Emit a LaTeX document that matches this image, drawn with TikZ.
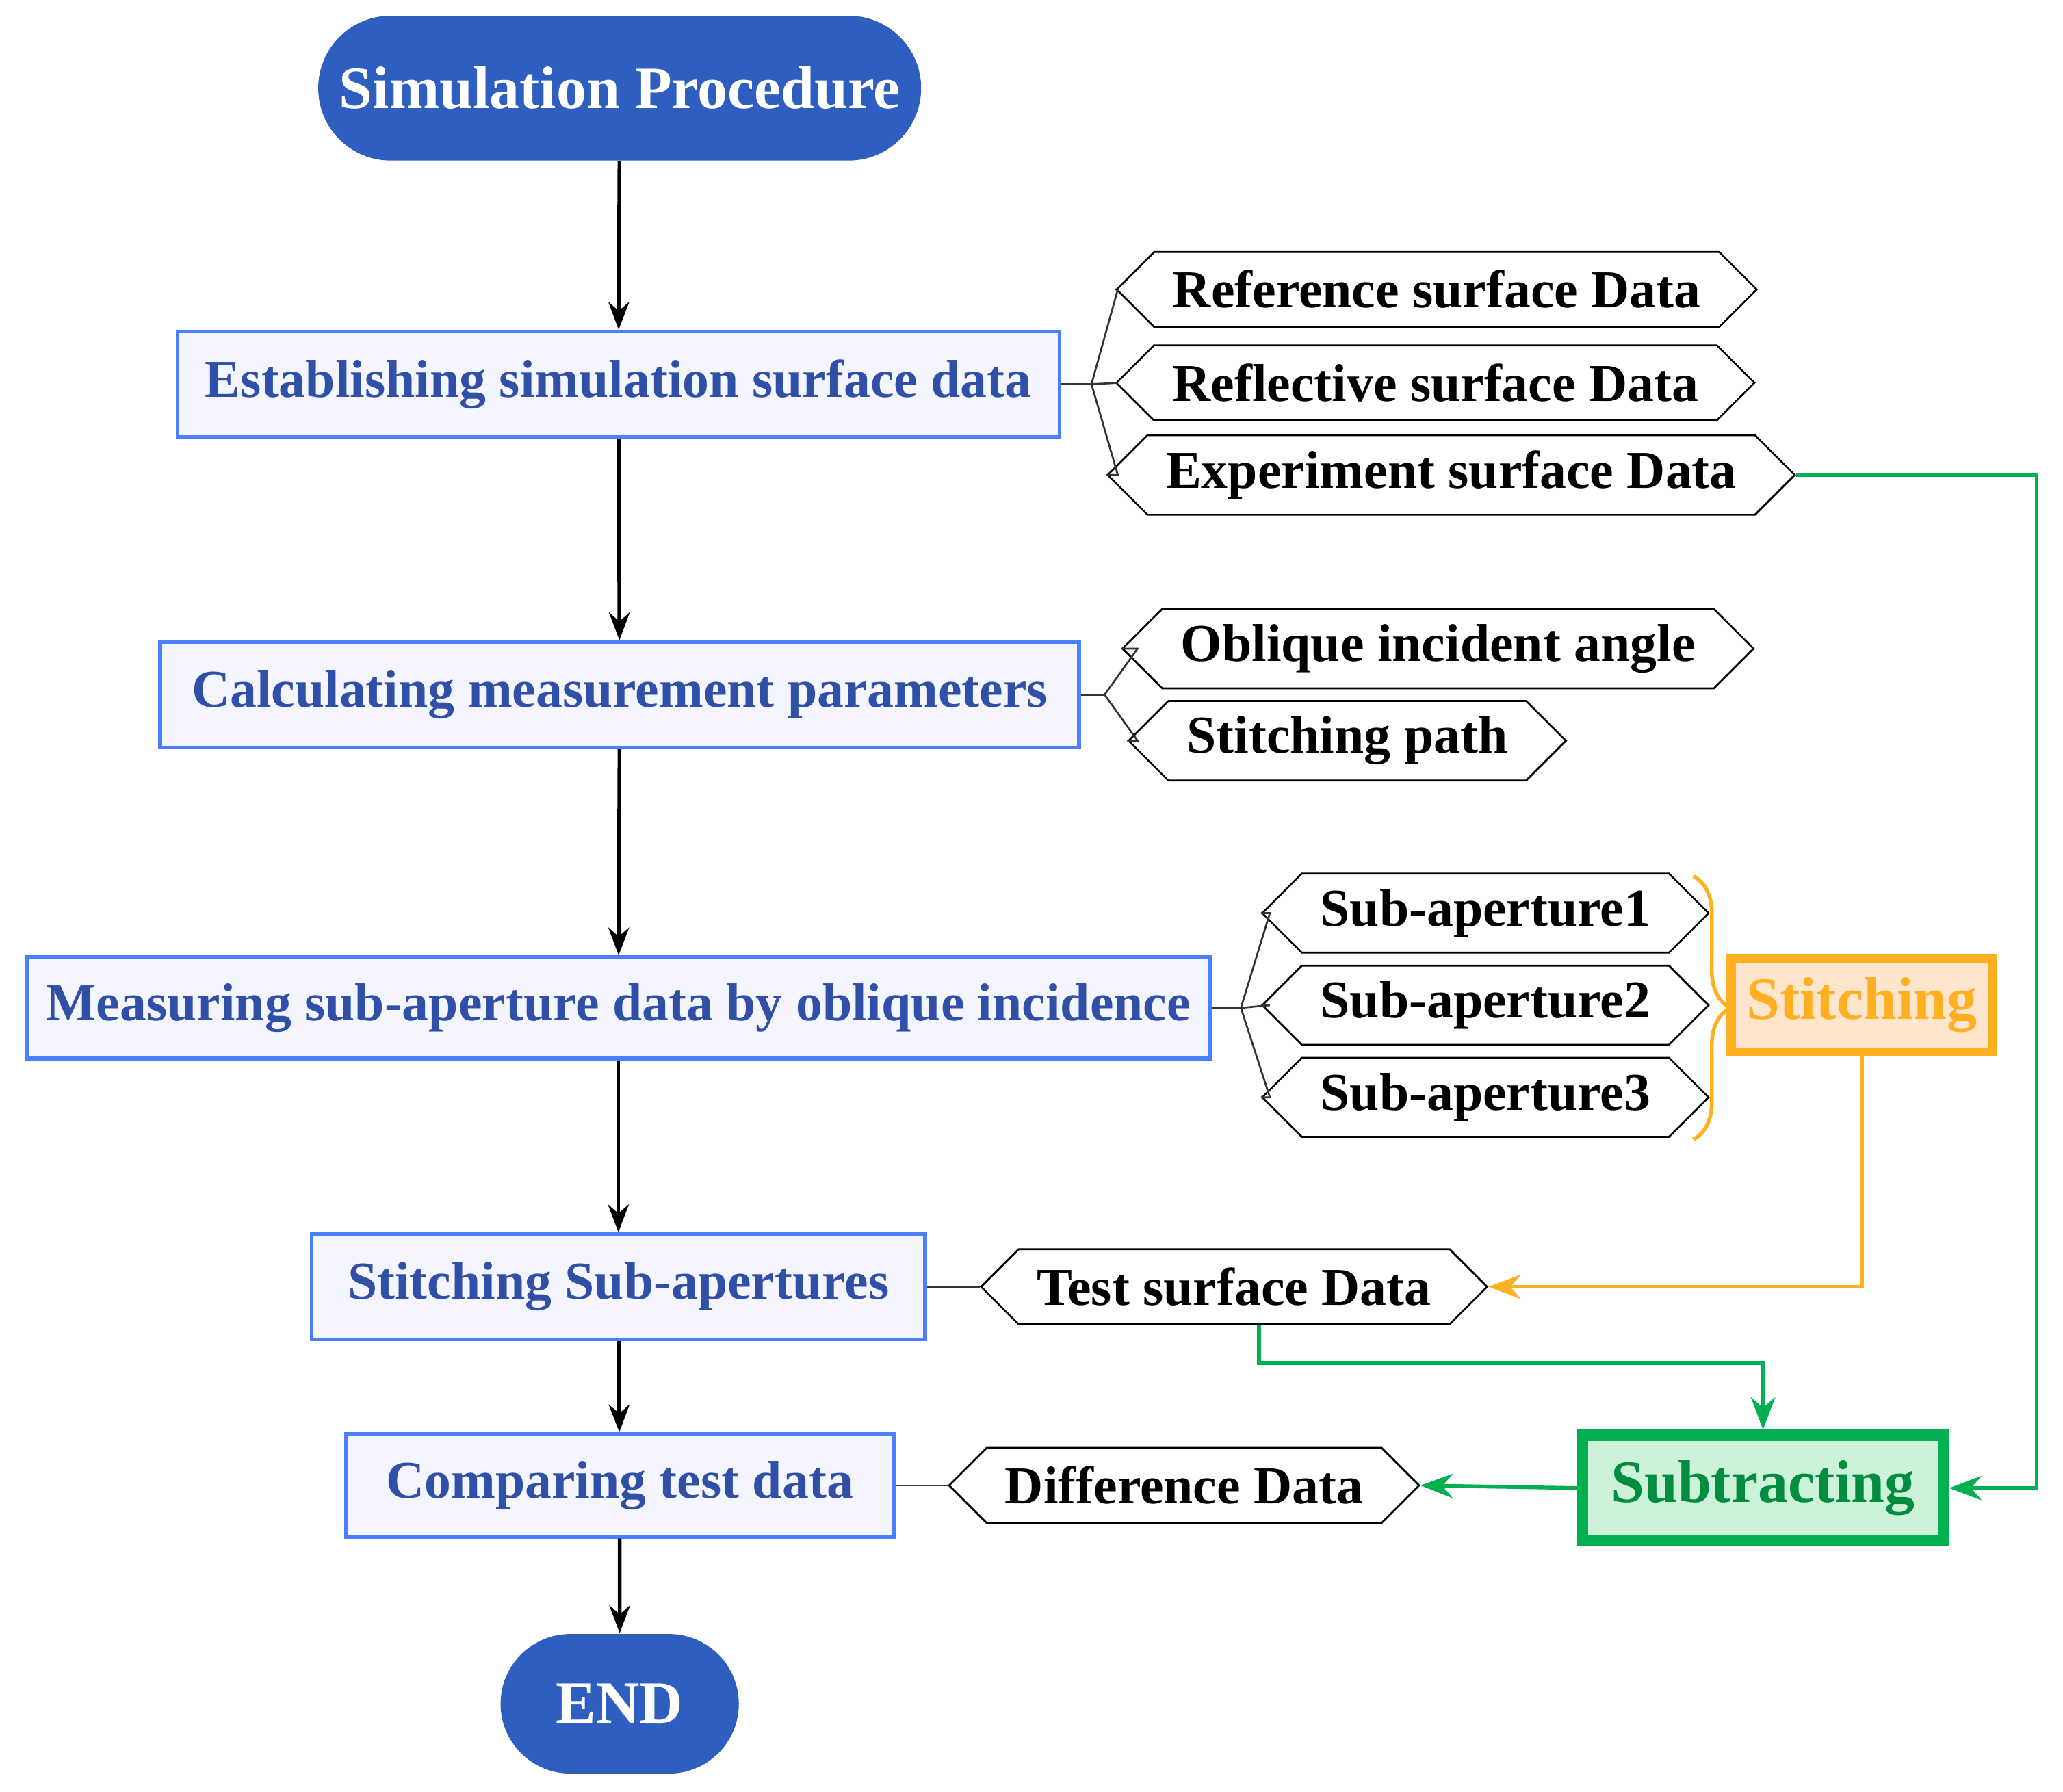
\documentclass[tikz,border=0pt]{standalone}
\usepackage{fontspec}
\setmainfont{Liberation Serif}
\usetikzlibrary{shapes,shapes.symbols,arrows.meta,positioning,calc,decorations.pathreplacing}
\definecolor{capblue}{HTML}{2E5EC0}
\definecolor{stepblue}{HTML}{4A80FF}
\definecolor{steptext}{HTML}{3050A8}
\definecolor{steporange}{HTML}{FFB020}
\definecolor{stepgreen}{HTML}{00B050}
\begin{document}
\begin{tikzpicture}[x=0.01cm, y=-0.01cm,
    font=\bfseries\fontsize{11.5}{13}\selectfont,
    terminal/.style={rounded rectangle, fill=capblue, text=white, inner sep=0pt},
    stage/.style={rectangle, draw=stepblue, thick, fill=blue!4, text=steptext, minimum height=0.8cm},
    tag/.style={signal, signal to=east and west, draw=black, minimum height=0.57cm, inner xsep=4pt},
    arrow/.style={-{Stealth[length=6pt]}, thick},
    fork/.style={draw=black!80, thin}
]
    \useasboundingbox (0,0) rectangle (1568,1362);

    % Main flow
    \node[terminal, minimum width=4.58cm, minimum height=1.1cm] (start) at (471,67) {\fontsize{13}{15}\selectfont Simulation Procedure};
    \node[stage, minimum width=6.7cm] (establish) at (470,292) {Establishing simulation surface data};
    \node[stage, minimum width=6.98cm] (calc) at (471,528) {Calculating measurement parameters};
    \node[stage, minimum width=8.99cm, minimum height=0.77cm] (measure) at (470,766) {Measuring sub-aperture data by oblique incidence};
    \node[stage, minimum width=4.66cm] (stitchsub) at (470,978) {Stitching Sub-apertures};
    \node[stage, minimum width=4.16cm, minimum height=0.78cm] (compare) at (471,1129) {Comparing test data};
    \node[terminal, minimum width=1.81cm, minimum height=1.06cm] (end) at (471,1295) {\fontsize{13}{15}\selectfont END};

    % Data tags
    \node[tag, minimum width=4.45cm] (refdata) at (1092,220) {Reference surface Data};
    \node[tag, minimum width=4.42cm] (refldata) at (1091,291) {Reflective surface Data};
    \node[tag, minimum width=4.67cm] (expdata) at (1103,361) {Experiment surface Data};
    \node[tag, minimum width=4.22cm] (angle) at (1093,493) {Oblique incident angle};
    \node[tag, minimum width=2.85cm] (path) at (1024,563) {Stitching path};
    \node[tag, minimum width=2.92cm] (sub1) at (1129,694) {Sub-aperture1};
    \node[tag, minimum width=2.92cm] (sub2) at (1129,764) {Sub-aperture2};
    \node[tag, minimum width=2.92cm] (sub3) at (1129,834) {Sub-aperture3};
    \node[tag, minimum width=3.44cm] (testdata) at (938,978) {Test surface Data};
    \node[tag, minimum width=3.19cm] (diffdata) at (900,1129) {Difference Data};

    % Operations
    \node[rectangle, draw=steporange, line width=2pt, fill=orange!20, text=steporange, minimum width=1.86cm, minimum height=0.71cm] (stitching) at (1415,764) {\fontsize{13}{15}\selectfont Stitching};
    \node[rectangle, draw=stepgreen, line width=2.5pt, fill=green!50!teal!20, text=stepgreen!80!black, minimum width=2.74cm, minimum height=0.8cm] (subtract) at (1340,1131) {\fontsize{13}{15}\selectfont Subtracting};

    % Arrows
    \draw[arrow] (start) -- (establish);
    \draw[arrow] (establish) -- (calc);
    \draw[arrow] (calc) -- (measure);
    \draw[arrow] (measure) -- (stitchsub);
    \draw[arrow] (stitchsub) -- (compare);
    \draw[arrow] (compare) -- (end);

    % Forks
    \draw[fork] (establish.east) -- ++(23,0) coordinate (f1);
    \foreach \t in {refdata, refldata, expdata}
        \draw[fork] (f1) -- ($(f1 |- \t.west) + (20,0)$) -- (\t.west);
    \draw[fork] (calc.east) -- ++(18,0) coordinate (f2);
    \foreach \t in {angle, path}
        \draw[fork] (f2) -- ($(f2 |- \t.west) + (25,0)$) -- (\t.west);
    \draw[fork] (measure.east) -- ++(22,0) coordinate (f3);
    \foreach \t in {sub1, sub2, sub3}
        \draw[fork] (f3) -- ($(f3 |- \t.west) + (22,0)$) -- (\t.west);
    \draw[fork] (stitchsub.east) -- (testdata.west);
    \draw[fork] (compare.east) -- (diffdata.west);

    % Brace
    \draw[steporange, thick, decorate, decoration={brace, amplitude=8pt}] (1287,666) -- (1287,866);

    % Data flow
    \draw[steporange, thick, -{Stealth[length=7pt]}] (stitching.south) |- (testdata.east);
    \draw[stepgreen, thick, -{Stealth[length=7pt]}] (expdata.east) -- (1548,361) |- (subtract.east);
    \draw[stepgreen, thick, -{Stealth[length=7pt]}] (testdata.south -| 957,0) -- (957,1036) -| (subtract.north);
    \draw[stepgreen, thick, -{Stealth[length=7pt]}] (subtract.west) -- (diffdata.east);
\end{tikzpicture}
\end{document}
